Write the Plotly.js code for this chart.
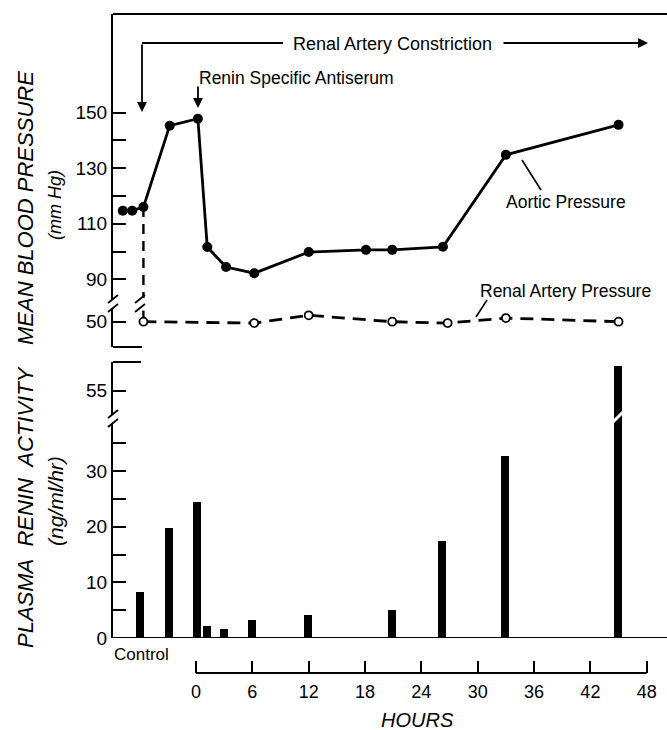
<!DOCTYPE html>
<html><head><meta charset="utf-8">
<script src="https://cdn.plot.ly/plotly-3.0.1.min.js"></script>
<style>html,body{margin:0;padding:0;background:#fff}</style>
</head><body><div id="chart" style="width:667px;height:730px"></div>
<script>
// ---- data ----
const aorticHours = [-7.8, -6.8, -5.6, -2.8, 0.2, 1.2, 3.2, 6.2, 12.0, 18.1, 20.9, 26.3, 33.0, 45.0];
const aorticPressure = [114.7, 114.7, 116.0, 145.3, 147.8, 101.6, 94.4, 92.2, 99.8, 100.6, 100.6, 101.7, 134.8, 145.6];
const renalHours = [-5.6, 6.2, 12.0, 20.9, 26.8, 33.0, 45.0];
const renalPressure = [50, 49.5, 52.3, 50, 49.5, 51.3, 50];
const reninHours = [-6.0, -2.9, 0.1, 1.2, 3.0, 6.0, 11.9, 20.9, 26.2, 32.9, 44.9];
const reninActivity = [8.3, 19.8, 24.4, 2.2, 1.7, 3.2, 4.1, 5.0, 17.4, 32.8, 59.3];
const hourTicks = [0, 6, 12, 18, 24, 30, 36, 42, 48];
const pressureTicks = [90, 100, 110, 120, 130, 140, 150];
const pressureLabels = ['90', '', '110', '', '130', '', '150'];
const lowPressureTicks = [50];
const reninTicks = [0, 5, 10, 15, 20, 25, 30, 35];
const reninLabels = ['0', '', '10', '', '20', '', '30', ''];
const reninHighTicks = [55];

// ---- layout helpers (pixel -> paper) ----
const W = 667, H = 730, ML = 113, MR = 0, MT = 14, MB = 57;
const PW = W - ML - MR, PH = H - MT - MB;
const px = x => (x - ML) / PW;
const py = y => (H - MB - y) / PH;
const F = 'Liberation Sans, Arial, Helvetica, sans-serif';
const K = '#000';

const traces = [
  { x: aorticHours, y: aorticPressure, xaxis: 'x', yaxis: 'y', type: 'scatter', mode: 'lines+markers',
    line: { color: K, width: 2.8 }, marker: { color: K, size: 10 }, hoverinfo: 'skip' },
  // dashed connector from control aortic point down to renal artery pressure
  { x: [renalHours[0], renalHours[0]], y: [aorticPressure[2], 83.3], xaxis: 'x', yaxis: 'y', mode: 'lines',
    line: { color: K, width: 2.4, dash: '10px,7px' }, hoverinfo: 'skip' },
  { x: [renalHours[0], renalHours[0]], y: [54, renalPressure[0]], xaxis: 'x', yaxis: 'y2', mode: 'lines',
    line: { color: K, width: 2.4 }, hoverinfo: 'skip' },
  { x: renalHours, y: renalPressure, xaxis: 'x', yaxis: 'y2', type: 'scatter', mode: 'lines+markers',
    line: { color: K, width: 2.8, dash: '13px,8px' },
    marker: { color: '#fff', size: 8, line: { color: K, width: 1.8 } }, hoverinfo: 'skip' },
  { x: reninHours, y: reninActivity, xaxis: 'x', yaxis: 'y4', type: 'bar', width: 0.85,
    marker: { color: K, line: { width: 0 } }, hoverinfo: 'skip' },
  { x: reninHours, y: reninActivity, xaxis: 'x', yaxis: 'y3', type: 'bar', width: 0.85,
    marker: { color: K, line: { width: 0 } }, hoverinfo: 'skip' }
];

const yCommon = {
  anchor: 'x', showline: true, linecolor: K, linewidth: 2, ticks: 'inside', ticklen: 13,
  tickwidth: 2, tickcolor: K, showgrid: false, zeroline: false, tickmode: 'array',
  tickfont: { family: F, size: 19, color: K }, fixedrange: true
};

function line(x0, y0, x1, y1, w, color) {
  return { type: 'line', xref: 'paper', yref: 'paper', x0: px(x0), y0: py(y0), x1: px(x1), y1: py(y1),
    line: { color: color || K, width: w || 2 }, layer: 'above' };
}
function whiteRect(x0, y0, x1, y1) {
  return { type: 'rect', xref: 'paper', yref: 'paper', x0: px(x0), y0: py(y0), x1: px(x1), y1: py(y1),
    fillcolor: '#fff', line: { width: 0 }, layer: 'above' };
}
function breakMark(cx, cy) {
  return [
    whiteRect(cx - 4, cy - 4, cx + 4, cy + 4),
    line(cx - 5, cy - 1, cx + 5, cy - 9, 1.8),
    line(cx - 5, cy + 8, cx + 5, cy + 0, 1.8)
  ];
}

const shapes = [
  line(113, 14, 667, 14, 2),                 // top frame
  line(142, 43, 283, 43, 1.8),               // constriction bracket
  line(113, 347, 142, 347, 2),               // end of upper panel
  line(113, 362, 141, 362, 2),               // start of lower panel
  { type: 'line', xref: 'paper', yref: 'y4', x0: 0, x1: 1, y0: 0, y1: 0, line: { color: K, width: 2 } },
  { type: 'line', xref: 'x', yref: 'paper', x0: hourTicks[0], x1: hourTicks[hourTicks.length - 1], y0: 0, y1: 0,
    line: { color: K, width: 2 } },
  line(522, 160, 541, 190, 1.6),            // aortic leader
  line(487, 300, 476, 317, 1.6),            // renal leader
  line(611, 424, 626, 409, 3, '#fff')       // break in the tall bar
].concat(breakMark(113, 304), breakMark(140, 304), breakMark(113, 419));

function txt(x, y, text, size, extra) {
  return Object.assign({ xref: 'paper', yref: 'paper', x: px(x), y: py(y), text: text, showarrow: false,
    xanchor: 'center', yanchor: 'middle', font: { family: F, size: size, color: K } }, extra || {});
}
function arrow(x, y, ax, ay) {
  return { xref: 'paper', yref: 'paper', x: px(x), y: py(y), ax: ax, ay: ay, text: '', showarrow: true,
    arrowhead: 2, arrowsize: 1.1, arrowwidth: 1.8, arrowcolor: K };
}

const annotations = [
  txt(392, 44, 'Renal Artery Constriction', 18),
  arrow(648, 43, -146, 0),
  arrow(142, 112, 0, -69),
  txt(197, 78, 'Renin Specific Antiserum', 17.5, { xanchor: 'left' }),
  arrow(198, 108, 0, -23),
  txt(566, 202, 'Aortic Pressure', 17.5),
  txt(565, 291, 'Renal Artery Pressure', 17.5),
  txt(112, 654, 'Control', 17, { xanchor: 'left' }),
  txt(417, 720, '<i>HOURS</i>', 20),
  txt(25, 208, '<i>MEAN BLOOD PRESSURE</i>', 22, { textangle: -90 }),
  txt(55, 205, '<i>(mm Hg)</i>', 18, { textangle: -90 }),
  txt(25, 507, '<i>PLASMA&nbsp; RENIN&nbsp; ACTIVITY</i>', 22, { textangle: -90 }),
  txt(55, 501, '<i>(ng/ml/hr)</i>', 21, { textangle: -90 })
];

const layout = {
  width: W, height: H, margin: { l: ML, r: MR, t: MT, b: MB, pad: 0 },
  paper_bgcolor: '#fff', plot_bgcolor: 'rgba(0,0,0,0)', showlegend: false, bargap: 0,
  font: { family: F, color: K },
  xaxis: {
    domain: [0, 1], range: [-8.84, 50.16], anchor: 'free', position: 0, showline: false, showgrid: false,
    zeroline: false, ticks: 'inside', ticklen: 12, tickwidth: 2, tickcolor: K, tickmode: 'array',
    tickvals: hourTicks, ticktext: hourTicks.map(String), tickfont: { family: F, size: 18, color: K },
    ticklabelstandoff: 6, fixedrange: true
  },
  yaxis: Object.assign({}, yCommon, { domain: [py(300), 1], range: [82.55, 185.5],
    tickvals: pressureTicks, ticktext: pressureLabels }),
  yaxis2: Object.assign({}, yCommon, { domain: [py(347), py(300)], range: [40.89, 57.81],
    tickvals: lowPressureTicks, ticktext: lowPressureTicks.map(String) }),
  yaxis3: Object.assign({}, yCommon, { domain: [py(419), py(362)], range: [49.9, 60.1],
    tickvals: reninHighTicks, ticktext: reninHighTicks.map(String) }),
  yaxis4: Object.assign({}, yCommon, { domain: [py(638), py(419)], range: [0, 39.4],
    tickvals: reninTicks, ticktext: reninLabels }),
  shapes: shapes, annotations: annotations
};

Plotly.newPlot('chart', traces, layout, { displayModeBar: false, staticPlot: true });
</script>
</body></html>
